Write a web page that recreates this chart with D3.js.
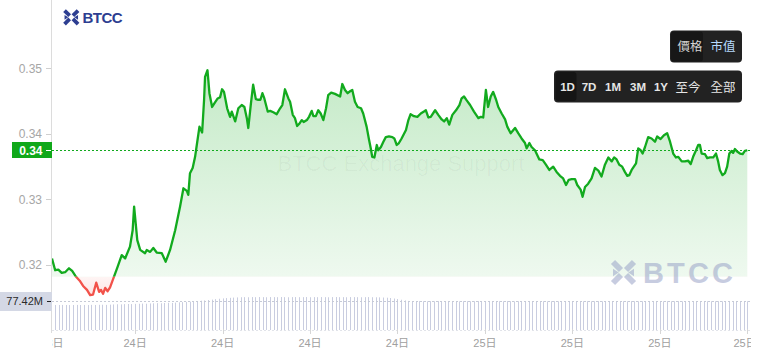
<!DOCTYPE html>
<html lang="zh-Hant">
<head>
<meta charset="UTF-8">
<title>BTCC price chart</title>
<script src="https://d3js.org/d3.v7.min.js"></script>
<style>
  body { margin: 0; background: #fff; }
  #chart { width: 763px; height: 363px; overflow: hidden; }
  text { font-family: "Liberation Sans", Arial, "Noto Sans CJK TC", sans-serif; }
</style>
</head>
<body>
<div id="chart"></div>
<script>
// minutes from 24日 00:00 (negative = 23日)
const minutes = [-342,-329,-316,-302,-288,-272,-259,-243,-228,-214,-198,-185,-173,-160,-148,-140,-132,-123,-113,-103,
  -89,-72,-55,-41,-21,-10,-4,9,21,41,48,62,75,89,110,126,144,165,185,199,
  213,219,226,237,247,254,265,276,284,288,298,306,317,329,340,350,358,366,379,391,
  398,412,425,439,450,460,466,477,486,497,507,516,524,532,546,556,569,583,597,606,
  617,631,638,649,658,667,675,686,694,707,716,727,734,744,754,764,775,786,795,807,
  823,844,853,864,875,885,894,905,916,930,939,953,963,970,976,985,995,1001,1012,1022,
  1032,1045,1059,1067,1077,1086,1097,1115,1125,1134,1148,1162,1176,1189,1197,1207,1217,1235,1248,1262,
  1272,1283,1293,1306,1321,1335,1344,1354,1365,1379,1395,1413,1423,1433,1444,1453,1464,1474,1486,1495,
  1509,1523,1532,1546,1564,1577,1591,1605,1612,1623,1632,1646,1664,1678,1691,1705,1721,1735,1749,1762,
  1774,1785,1797,1811,1820,1834,1842,1852,1865,1879,1893,1907,1920,1934,1948,1962,1972,1982,1993,2005,
  2016,2026,2034,2044,2062,2071,2081,2089,2099,2112,2126,2140,2149,2163,2177,2190,2202,2215,2226,2236,
  2250,2263,2277,2287,2297,2309,2318,2325,2332,2346,2355,2366,2380,2391,2400,2407,2418,2428,2437,2446,
  2455,2462,2469,2478,2490,2501,2510,2520];

const prices = [0.3210,0.3192,0.3193,0.3188,0.3189,0.3195,0.3191,0.3182,0.3176,0.3168,0.3162,0.3154,0.3155,0.3173,0.3159,0.3162,0.3156,0.3165,0.3160,0.3166,
  0.3180,0.3197,0.3215,0.3210,0.3228,0.3253,0.3289,0.3238,0.3223,0.3218,0.3223,0.3220,0.3226,0.3219,0.3218,0.3205,0.3223,0.3253,0.3289,0.3317,
  0.3313,0.3307,0.3340,0.3348,0.3365,0.3383,0.3411,0.3402,0.3452,0.3487,0.3497,0.3462,0.3441,0.3448,0.3454,0.3456,0.3468,0.3464,0.3439,0.3426,
  0.3434,0.3419,0.3439,0.3444,0.3441,0.3424,0.3409,0.3447,0.3475,0.3453,0.3452,0.3452,0.3462,0.3454,0.3434,0.3435,0.3433,0.3430,0.3439,0.3444,
  0.3468,0.3454,0.3449,0.3429,0.3424,0.3412,0.3415,0.3421,0.3418,0.3421,0.3426,0.3435,0.3427,0.3427,0.3436,0.3431,0.3421,0.3439,0.3459,0.3463,
  0.3461,0.3457,0.3476,0.3467,0.3462,0.3465,0.3467,0.3449,0.3441,0.3439,0.3431,0.3411,0.3391,0.3378,0.3365,0.3364,0.3383,0.3375,0.3380,0.3388,
  0.3395,0.3396,0.3395,0.3393,0.3383,0.3386,0.3393,0.3406,0.3421,0.3430,0.3427,0.3426,0.3431,0.3434,0.3436,0.3425,0.3426,0.3436,0.3429,0.3422,
  0.3419,0.3424,0.3414,0.3429,0.3436,0.3444,0.3454,0.3457,0.3451,0.3444,0.3434,0.3424,0.3426,0.3425,0.3467,0.3441,0.3457,0.3464,0.3452,0.3441,
  0.3431,0.3422,0.3411,0.3401,0.3409,0.3401,0.3393,0.3386,0.3378,0.3386,0.3380,0.3375,0.3361,0.3360,0.3353,0.3345,0.3350,0.3342,0.3336,0.3332,
  0.3322,0.3330,0.3331,0.3331,0.3322,0.3315,0.3304,0.3319,0.3324,0.3332,0.3348,0.3344,0.3335,0.3353,0.3364,0.3358,0.3364,0.3361,0.3353,0.3350,
  0.3342,0.3336,0.3337,0.3345,0.3355,0.3378,0.3375,0.3370,0.3380,0.3395,0.3393,0.3388,0.3396,0.3392,0.3398,0.3401,0.3388,0.3370,0.3364,0.3365,
  0.3358,0.3358,0.3359,0.3354,0.3365,0.3375,0.3383,0.3383,0.3370,0.3369,0.3363,0.3364,0.3364,0.3370,0.3358,0.3345,0.3337,0.3340,0.3350,0.3370,
  0.3374,0.3371,0.3377,0.3373,0.3370,0.3369,0.3374,0.3375];

const baselinePrice = 0.3182;   // above = green, below = red

// volume bars, in millions, every 15 minutes from 23日 18:15
const volumeStart = -345;
const volumeStep = 15;
const volumes = [67.2,67.5,67.3,67.6,67.4,67.2,67.5,67.7,67.4,67.6,67.3,67.8,67.5,67.9,68.1,67.8,68.4,
  68.9,69.4,69.1,69.8,70.2,69.9,70.5,70.8,71.2,70.9,71.6,
  72.0,72.4,72.1,72.8,73.3,73.0,73.9,74.6,75.2,75.8,76.4,
  77.3,78.1,79.0,79.8,80.9,82.0,83.2,
  84.3,85.2,86.1,86.8,87.4,87.9,
  88.4,88.6,88.3,88.8,88.5,88.9,88.6,88.4,88.8,88.7,88.5,88.9,88.6,88.3,88.7,88.8,88.5,88.6,88.9,88.4,
  88.7,88.5,88.8,88.6,88.3,88.7,88.9,88.5,88.6,88.4,88.8,88.7,88.5,88.3,88.6,88.8,88.4,88.2,88.0,87.6,87.1,
  86.2,84.9,83.4,81.6,79.8,78.4,
  77.6,77.3,77.8,77.5,77.2,77.7,77.4,77.9,77.5,77.3,
  77.6,77.8,77.4,77.2,77.7,77.5,77.3,77.6,77.9,77.4,
  77.2,77.5,77.7,77.3,77.6,77.4,77.8,77.5,77.2,77.6,
  77.4,77.7,77.3,77.5,77.8,77.4,77.6,77.2,77.5,77.7,
  77.3,77.6,77.4,77.8,77.5,77.2,77.6,77.4,77.7,77.3,
  77.5,77.8,77.4,77.6,77.2,77.5,77.7,77.3,77.6,77.4,
  77.8,77.5,77.3,77.6,77.4,77.7,77.2,77.5,77.6,77.3,
  77.7,77.4,77.5,77.8,77.3,77.6,77.4,77.5,77.7,77.2,
  77.6,77.4,77.5,77.3,77.7,77.4,77.6,77.5,77.3,77.5,
  77.4,77.5,77.42];

const priceTicks = [0.32, 0.33, 0.34, 0.35];
const priceTabs = ["價格", "市值"];
const rangeTabs = ["1D", "7D", "1M", "3M", "1Y", "至今", "全部"];

// layout
const width = 763, height = 363;
const plotLeft = 52, plotRight = 751, volBottom = 330;
const green = "#12aa1e", red = "#f2524a";

const origin = Date.UTC(2024, 0, 24);
const toDate = m => new Date(origin + m * 60000);
const series = minutes.map((m, i) => ({ t: toDate(m), p: prices[i] }));
const bars = volumes.map((v, i) => ({ t: toDate(volumeStart + i * volumeStep), v }));

const x = d3.scaleUtc()
  .domain([series[0].t, series[series.length - 1].t])
  .range([plotLeft, 747.3]);
const y = d3.scaleLinear().domain([0.32, 0.35]).range([265, 68.3]);
const yVol = d3.scaleLinear().domain([0, 89]).range([volBottom, 297]);
const yb = y(baselinePrice);

const svg = d3.select("#chart").append("svg")
  .attr("width", width).attr("height", height);

const defs = svg.append("defs");
defs.append("clipPath").attr("id", "plot").append("rect")
  .attr("x", plotLeft).attr("y", 0).attr("width", plotRight - plotLeft).attr("height", volBottom);
defs.append("clipPath").attr("id", "above").append("rect")
  .attr("x", plotLeft).attr("y", 0).attr("width", plotRight - plotLeft).attr("height", yb);
defs.append("clipPath").attr("id", "below").append("rect")
  .attr("x", plotLeft).attr("y", yb).attr("width", plotRight - plotLeft).attr("height", volBottom - yb);
defs.append("clipPath").attr("id", "xlabels").append("rect")
  .attr("x", plotLeft).attr("y", volBottom).attr("width", plotRight - plotLeft).attr("height", height - volBottom);

const gUp = defs.append("linearGradient").attr("id", "fillUp")
  .attr("gradientUnits", "userSpaceOnUse").attr("x1", 0).attr("x2", 0).attr("y1", y(0.35)).attr("y2", yb);
gUp.append("stop").attr("offset", 0).attr("stop-color", green).attr("stop-opacity", 0.25);
gUp.append("stop").attr("offset", 1).attr("stop-color", green).attr("stop-opacity", 0.07);
const gDown = defs.append("linearGradient").attr("id", "fillDown")
  .attr("gradientUnits", "userSpaceOnUse").attr("x1", 0).attr("x2", 0).attr("y1", yb).attr("y2", y(0.315));
gDown.append("stop").attr("offset", 0).attr("stop-color", red).attr("stop-opacity", 0.06);
gDown.append("stop").attr("offset", 1).attr("stop-color", red).attr("stop-opacity", 0.16);

// volume bars
svg.append("g").attr("clip-path", "url(#plot)")
  .selectAll("line").data(bars).join("line")
  .attr("x1", d => Math.round(x(d.t)) + 0.5).attr("x2", d => Math.round(x(d.t)) + 0.5)
  .attr("y1", volBottom).attr("y2", d => yVol(d.v))
  .attr("stroke", "#c9cde0").attr("stroke-width", 1);

// baseline area, green above / red below
const area = d3.area().x(d => x(d.t)).y0(yb).y1(d => y(d.p));
svg.append("path").datum(series).attr("clip-path", "url(#above)")
  .attr("d", area).attr("fill", "url(#fillUp)");
svg.append("path").datum(series).attr("clip-path", "url(#below)")
  .attr("d", area).attr("fill", "url(#fillDown)");

// watermarks
svg.append("text").attr("x", 401).attr("y", 171).attr("text-anchor", "middle")
  .attr("font-size", 22).attr("fill", "rgba(0,0,0,0.035)")
  .text("BTCC Exchange Support");

function logoIcon(g, cx, cy, s, color) {
  const h = s / 2, gap = s * 0.12;
  const arms = [[-1, -1], [1, -1], [-1, 1], [1, 1]];
  g.selectAll("line.arm").data(arms).join("line").attr("class", "arm")
    .attr("x1", d => cx + d[0] * h).attr("y1", d => cy + d[1] * h)
    .attr("x2", d => cx + d[0] * gap).attr("y2", d => cy + d[1] * gap)
    .attr("stroke", color).attr("stroke-width", s * 0.28).attr("stroke-linecap", "butt");
  g.append("path")
    .attr("d", `M${cx - h},${cy - h * 0.35}L${cx - h * 0.45},${cy}L${cx - h},${cy + h * 0.35}Z` +
      `M${cx + h},${cy - h * 0.35}L${cx + h * 0.45},${cy}L${cx + h},${cy + h * 0.35}Z`)
    .attr("fill", color);
}
const wm = svg.append("g").attr("opacity", 0.55);
logoIcon(wm, 623.5, 272.5, 21, "#9aa4c8");
wm.append("text").attr("x", 643).attr("y", 283).attr("font-size", 29).attr("font-weight", 700)
  .attr("textLength", 90).attr("fill", "#9aa4c8").text("BTCC");

// price line
const line = d3.line().x(d => x(d.t)).y(d => y(d.p));
svg.append("path").datum(series).attr("clip-path", "url(#above)")
  .attr("d", line).attr("fill", "none").attr("stroke", green).attr("stroke-width", 2.3)
  .attr("stroke-linejoin", "round");
svg.append("path").datum(series).attr("clip-path", "url(#below)")
  .attr("d", line).attr("fill", "none").attr("stroke", red).attr("stroke-width", 2.3)
  .attr("stroke-linejoin", "round");

// current price + volume reference lines
const lastPrice = prices[prices.length - 1];
const lastVol = volumes[volumes.length - 1];
svg.append("line").attr("x1", plotLeft).attr("x2", 750)
  .attr("y1", Math.round(y(lastPrice)) + 0.5).attr("y2", Math.round(y(lastPrice)) + 0.5)
  .attr("stroke", green).attr("stroke-dasharray", "2,2");
svg.append("line").attr("x1", plotLeft).attr("x2", 750)
  .attr("y1", Math.round(yVol(lastVol)) + 0.5).attr("y2", Math.round(yVol(lastVol)) + 0.5)
  .attr("stroke", "#c6cad6").attr("stroke-dasharray", "2,2");
svg.append("line").attr("x1", plotLeft).attr("x2", 750)
  .attr("y1", volBottom + 0.5).attr("y2", volBottom + 0.5)
  .attr("stroke", "#e2e4ea").attr("stroke-dasharray", "2,2");

// left axis
svg.append("line").attr("x1", plotLeft - 0.5).attr("x2", plotLeft - 0.5)
  .attr("y1", 0).attr("y2", volBottom + 3).attr("stroke", "#dcdcdc");
const yAxis = svg.append("g");
yAxis.selectAll("line").data(priceTicks).join("line")
  .attr("x1", plotLeft - 6).attr("x2", plotLeft - 1)
  .attr("y1", d => Math.round(y(d)) + 0.5).attr("y2", d => Math.round(y(d)) + 0.5)
  .attr("stroke", "#cfcfcf");
yAxis.selectAll("text").data(priceTicks).join("text")
  .attr("x", 42).attr("y", d => y(d)).attr("dy", "0.35em")
  .attr("text-anchor", "end").attr("font-size", 12).attr("fill", "#a6a6a6")
  .text(d => d.toFixed(2));

// current price label
const py = Math.round(y(lastPrice));
svg.append("rect").attr("x", 12).attr("y", py - 8).attr("width", plotLeft - 12).attr("height", 16)
  .attr("fill", "#10a81a");
svg.append("text").attr("x", 42.5).attr("y", py + 0.5).attr("dy", "0.36em")
  .attr("text-anchor", "end").attr("font-size", 12).attr("font-weight", 700).attr("fill", "#fff")
  .text(lastPrice.toFixed(2));
svg.append("line").attr("x1", 46).attr("x2", 51).attr("y1", py + 0.5).attr("y2", py + 0.5)
  .attr("stroke", "#fff");

// volume label
const vy = Math.round(yVol(lastVol));
svg.append("rect").attr("x", 0).attr("y", vy - 9).attr("width", plotLeft).attr("height", 19)
  .attr("fill", "#d4d8e5");
svg.append("text").attr("x", 43).attr("y", vy + 0.5).attr("dy", "0.36em")
  .attr("text-anchor", "end").attr("font-size", 11).attr("fill", "#2a2a2a")
  .text(lastVol.toFixed(2) + "M");
svg.append("line").attr("x1", 47).attr("x2", 51).attr("y1", vy + 0.5).attr("y2", vy + 0.5)
  .attr("stroke", "#222");

// x axis (6-hour ticks, day labels)
const xTicks = d3.utcHour.every(6).range(toDate(minutes[0] - 360), toDate(minutes[minutes.length - 1] + 1));
const fmt = d3.utcFormat("%-d日");
const xAxis = svg.append("g");
xAxis.selectAll("line").data(xTicks.filter(t => x(t) >= plotLeft)).join("line")
  .attr("x1", d => Math.round(x(d)) + 0.5).attr("x2", d => Math.round(x(d)) + 0.5)
  .attr("y1", volBottom - 1).attr("y2", volBottom + 4).attr("stroke", "#d6d6d6");
xAxis.append("g").attr("clip-path", "url(#xlabels)")
  .selectAll("text").data(xTicks).join("text")
  .attr("x", d => Math.min(Math.max(x(d), plotLeft), 745)).attr("y", 343).attr("dy", "0.35em")
  .attr("text-anchor", "middle").attr("font-size", 11).attr("fill", "#a0a0a0")
  .text(d => fmt(d));

// top-left brand
const brand = svg.append("g");
logoIcon(brand, 71.3, 17.3, 13.5, "#2d3e91");
brand.append("text").attr("x", 82.5).attr("y", 22.7).attr("font-size", 15).attr("font-weight", 700)
  .attr("textLength", 40).attr("fill", "#2d3e91").text("BTCC");

// tab boxes
const cjk = "'Noto Sans CJK TC', sans-serif";
const box1 = svg.append("g");
box1.append("rect").attr("x", 670).attr("y", 30.5).attr("width", 72).attr("height", 32).attr("rx", 4)
  .attr("fill", "#222222");
box1.append("rect").attr("x", 671).attr("y", 31.5).attr("width", 32).attr("height", 30).attr("rx", 3)
  .attr("fill", "#171717");
const tab1X = [690, 723];
box1.selectAll("text").data(priceTabs).join("text")
  .attr("x", (d, i) => tab1X[i]).attr("y", 46.5).attr("dy", "0.36em")
  .attr("text-anchor", "middle").attr("font-size", 12.5).style("font-family", cjk)
  .attr("fill", (d, i) => i === 0 ? "#d4d4d4" : "#b7dbff")
  .text(d => d);

const box2 = svg.append("g");
box2.append("rect").attr("x", 554).attr("y", 70.5).attr("width", 188).attr("height", 32).attr("rx", 4)
  .attr("fill", "#222222");
box2.append("rect").attr("x", 555.5).attr("y", 72).attr("width", 21).attr("height", 29).attr("rx", 3)
  .attr("fill", "#151515");
const tab2X = [567.5, 589, 613, 638, 661, 688, 723];
box2.selectAll("text").data(rangeTabs).join("text")
  .attr("x", (d, i) => tab2X[i]).attr("y", 87).attr("dy", "0.36em")
  .attr("text-anchor", "middle")
  .attr("font-size", (d, i) => i < 5 ? 11.5 : 12.5)
  .attr("font-weight", (d, i) => i < 5 ? 700 : 400)
  .style("font-family", (d, i) => i < 5 ? null : cjk)
  .attr("fill", "#e6e6e6")
  .text(d => d);
</script>
</body>
</html>
